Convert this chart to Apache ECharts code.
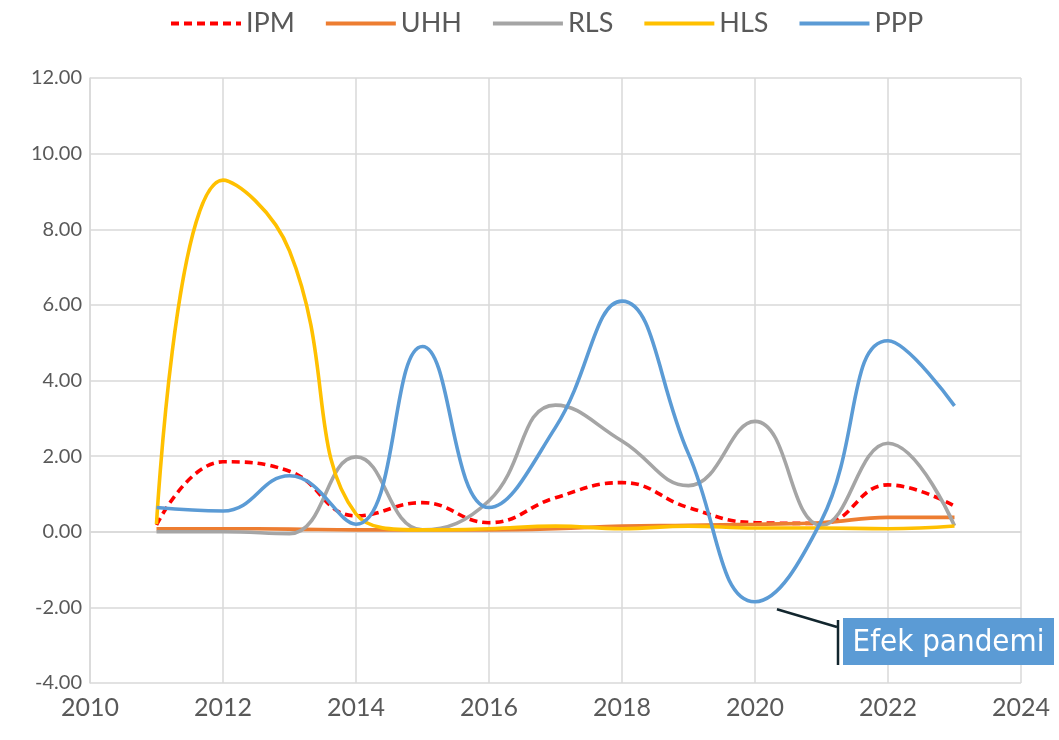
<!DOCTYPE html>
<html>
<head>
<meta charset="utf-8">
<script src="https://cdn.jsdelivr.net/npm/echarts@6/dist/echarts.min.js"></script>
<style>html,body{margin:0;padding:0;background:#fff;}#c{width:1059px;height:740px;}</style>
</head>
<body>
<div id="c"></div>
<script>
const years = [2011,2012,2013,2014,2015,2016,2017,2018,2019,2020,2021,2022,2023];
const IPM = [0.18,1.85,1.6,0.42,0.77,0.24,0.9,1.3,0.64,0.24,0.22,1.24,0.68];
const UHH = [0.08,0.08,0.07,0.05,0.05,0.05,0.08,0.15,0.17,0.2,0.24,0.38,0.38];
const RLS = [0.0,0.0,-0.05,1.98,0.05,0.82,3.35,2.4,1.22,2.92,0.17,2.34,0.16];
const HLS = [0.2,9.3,7.43,0.47,0.05,0.08,0.15,0.08,0.15,0.1,0.1,0.08,0.15];
const PPP = [0.64,0.55,1.48,0.2,4.9,0.64,2.76,6.1,2.06,-1.85,0.3,5.05,3.33];
const xTicks = {min:2010, max:2024, interval:2};
const yTicks = {min:-4, max:12, interval:2};
const annotationText = 'Efek pandemi';

const pairs = arr => years.map((y,i)=>[y,arr[i]]);
const font = 'Lato, "Open Sans", sans-serif';
const chart = echarts.init(document.getElementById('c'));
function mk(name, data, color, dashed){
  return {name, type:'line', data:pairs(data), smooth:0.45, symbol:'none',
    lineStyle:{color, width:3.6, type: dashed?[8,5]:'solid', cap:'butt'},
    itemStyle:{color}};
}
chart.setOption({
  animation:false,
  backgroundColor:'#fff',
  grid:{left:90,right:38,top:78,bottom:57,containLabel:false},
  legend:{top:5,left:164,itemWidth:70,itemHeight:14,itemGap:29,
    itemStyle:{opacity:0},
    lineStyle:{width:4},
    textStyle:{fontSize:27,color:'#595959',fontFamily:font},
    data:['IPM','UHH','RLS','HLS','PPP']},
  xAxis:{type:'value',min:xTicks.min,max:xTicks.max,interval:xTicks.interval,
    axisLine:{show:true,lineStyle:{color:'#d9d9d9',width:1.5}},
    axisTick:{show:false},
    splitLine:{show:true,lineStyle:{color:'#d9d9d9',width:1.5}},
    axisLabel:{fontSize:25,color:'#595959',fontFamily:font,margin:12,formatter:v=>String(v)}},
  yAxis:{type:'value',min:yTicks.min,max:yTicks.max,interval:yTicks.interval,
    axisLine:{show:true,lineStyle:{color:'#d9d9d9',width:1.5}},
    axisTick:{show:false},
    splitLine:{show:true,lineStyle:{color:'#d9d9d9',width:1.5}},
    axisLabel:{fontSize:20,color:'#595959',fontFamily:font,margin:8,formatter:v=>v.toFixed(2)}},
  series:[
    mk('IPM',IPM,'#FF0000',true),
    mk('UHH',UHH,'#ED7D31'),
    mk('RLS',RLS,'#A5A5A5'),
    mk('HLS',HLS,'#FFC000'),
    mk('PPP',PPP,'#5B9BD5')
  ]
});
const a = chart.convertToPixel({gridIndex:0},[2020.33,-2.05]);
const bx = 843, by = 618, bw = 211, bh = 47;
chart.setOption({graphic:[
  {type:'line',shape:{x1:a[0],y1:a[1],x2:bx-6,y2:by+9},style:{stroke:'#12262e',lineWidth:2.5}},
  {type:'line',shape:{x1:bx-5,y1:by+2,x2:bx-5,y2:by+bh},style:{stroke:'#12262e',lineWidth:2.5}},
  {type:'rect',shape:{x:bx,y:by,width:bw,height:bh},style:{fill:'#5B9BD5'}},
  {type:'text',x:bx+bw/2,y:by+bh/2+1,style:{text:annotationText,fill:'#fff',fontSize:31,
    fontFamily:'"DejaVu Sans Condensed", "Liberation Sans Narrow", sans-serif',align:'center',verticalAlign:'middle'}}
]});
</script>
</body>
</html>
